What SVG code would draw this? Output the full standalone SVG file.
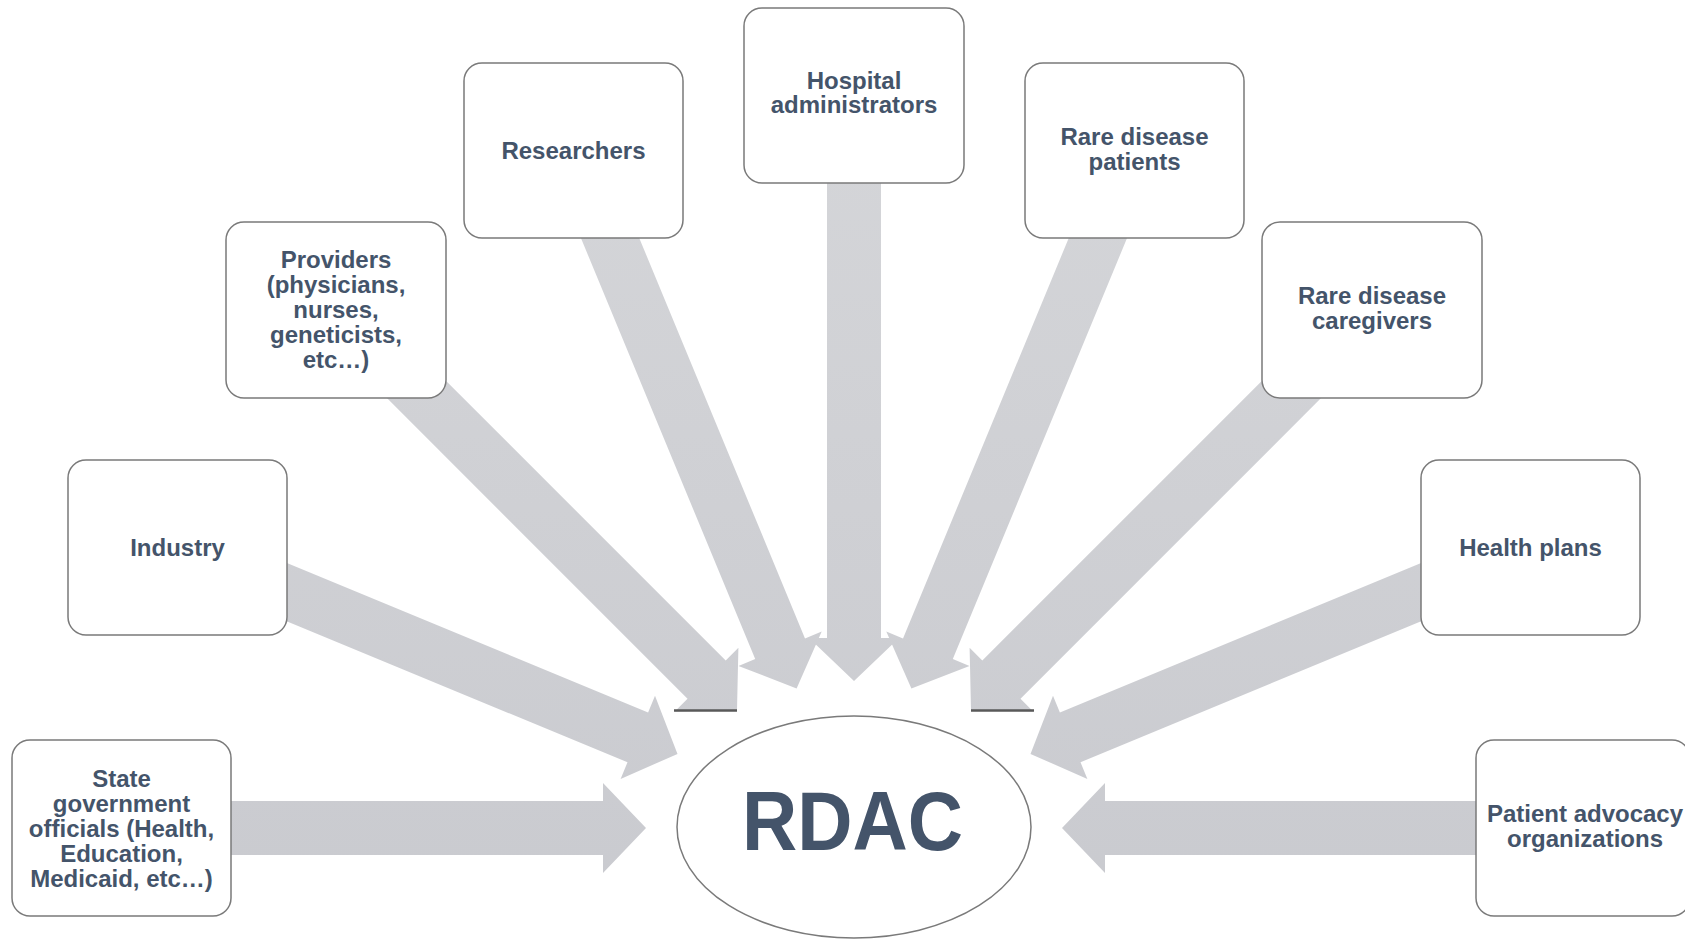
<svg xmlns="http://www.w3.org/2000/svg" width="1685" height="939" viewBox="0 0 1685 939">
  <defs>
    <linearGradient id="arrowFill" gradientUnits="userSpaceOnUse" x1="0" y1="0" x2="0" y2="939">
      <stop offset="0" stop-color="#d6d7da"/>
      <stop offset="1" stop-color="#c9cacf"/>
    </linearGradient>
    <style>
      .arrow { fill: url(#arrowFill); stroke: none; }
      .edge { stroke: #595959; stroke-width: 2.5; fill: none; }
      .box { fill: #ffffff; stroke: #7a7a7a; stroke-width: 1.5; }
      .lbl { font-family: "Liberation Sans", Arial, sans-serif; font-weight: bold; font-size: 24px; fill: #44546a; text-anchor: middle; }
      .hub { fill: #ffffff; stroke: #7a7a7a; stroke-width: 1.5; }
      .hubtxt { font-family: "Liberation Sans", Arial, sans-serif; font-weight: bold; font-size: 83px; fill: #44546a; text-anchor: middle; }
    </style>
  </defs>
  <rect width="1685" height="939" fill="#ffffff"/>

  <g id="connectors">
    <polygon class="arrow" points="215,801 603,801 603,783 646,828 603,873 603,855 215,855"/>
    <polygon class="arrow" points="274.2,557.7 648.1,712.5 655,695.8 677.5,753.9 620.6,779 627.5,762.3 253.6,607.5"/>
    <polygon class="arrow" points="420.6,355.4 725.7,660.5 738.4,647.8 737,710 674.8,711.4 687.5,698.7 382.4,393.6"/>
    <line class="edge" x1="674" y1="710.5" x2="737" y2="710.5"/>
    <polygon class="arrow" points="626.9,208.2 805,638.4 821.7,631.5 796.6,688.4 738.5,665.9 755.2,659 577.1,228.8"/>
    <polygon class="arrow" points="881,165 881,638 899,638 854,681 809,638 827,638 827,165"/>
    <polygon class="arrow" points="1081.1,208.2 903,638.4 886.3,631.5 911.4,688.4 969.5,665.9 952.8,659 1130.9,228.8"/>
    <polygon class="arrow" points="1287.4,355.4 982.3,660.5 969.6,647.8 971,710 1033.2,711.4 1020.5,698.7 1325.6,393.6"/>
    <line class="edge" x1="971" y1="710.5" x2="1034" y2="710.5"/>
    <polygon class="arrow" points="1433.8,557.7 1059.9,712.5 1053,695.8 1030.5,753.9 1087.4,779 1080.5,762.3 1454.4,607.5"/>
    <polygon class="arrow" points="1493,801 1105,801 1105,783 1062,828 1105,873 1105,855 1493,855"/>
  </g>

  <g id="node-state">
    <rect class="box" x="12" y="740" width="219" height="176" rx="18"/>
    <text class="lbl" x="121.5" y="786.5">State</text>
    <text class="lbl" x="121.5" y="811.5">government</text>
    <text class="lbl" x="121.5" y="836.5">officials (Health,</text>
    <text class="lbl" x="121.5" y="861.5">Education,</text>
    <text class="lbl" x="121.5" y="886.5">Medicaid, etc…)</text>
  </g>

  <g id="node-industry">
    <rect class="box" x="68" y="460" width="219" height="175" rx="18"/>
    <text class="lbl" x="177.5" y="555.5">Industry</text>
  </g>

  <g id="node-providers">
    <rect class="box" x="226" y="222" width="220" height="176" rx="18"/>
    <text class="lbl" x="336" y="267.5">Providers</text>
    <text class="lbl" x="336" y="292.5">(physicians,</text>
    <text class="lbl" x="336" y="317.5">nurses,</text>
    <text class="lbl" x="336" y="342.5">geneticists,</text>
    <text class="lbl" x="336" y="367.5">etc…)</text>
  </g>

  <g id="node-researchers">
    <rect class="box" x="464" y="63" width="219" height="175" rx="18"/>
    <text class="lbl" x="573.5" y="158.5">Researchers</text>
  </g>

  <g id="node-hospital">
    <rect class="box" x="744" y="8" width="220" height="175" rx="18"/>
    <text class="lbl" x="854" y="89">Hospital</text>
    <text class="lbl" x="854" y="113">administrators</text>
  </g>

  <g id="node-patients">
    <rect class="box" x="1025" y="63" width="219" height="175" rx="18"/>
    <text class="lbl" x="1134.5" y="145">Rare disease</text>
    <text class="lbl" x="1134.5" y="169.5">patients</text>
  </g>

  <g id="node-caregivers">
    <rect class="box" x="1262" y="222" width="220" height="176" rx="18"/>
    <text class="lbl" x="1372" y="304">Rare disease</text>
    <text class="lbl" x="1372" y="328.5">caregivers</text>
  </g>

  <g id="node-healthplans">
    <rect class="box" x="1421" y="460" width="219" height="175" rx="18"/>
    <text class="lbl" x="1530.5" y="555.5">Health plans</text>
  </g>

  <g id="node-advocacy">
    <rect class="box" x="1476" y="740" width="214" height="176" rx="18"/>
    <text class="lbl" x="1585" y="822">Patient advocacy</text>
    <text class="lbl" x="1585" y="846.5">organizations</text>
  </g>

  <g id="node-rdac">
    <ellipse class="hub" cx="854" cy="827" rx="177" ry="111"/>
    <text class="hubtxt" x="852.5" y="850" textLength="221" lengthAdjust="spacingAndGlyphs">RDAC</text>
  </g>
</svg>
